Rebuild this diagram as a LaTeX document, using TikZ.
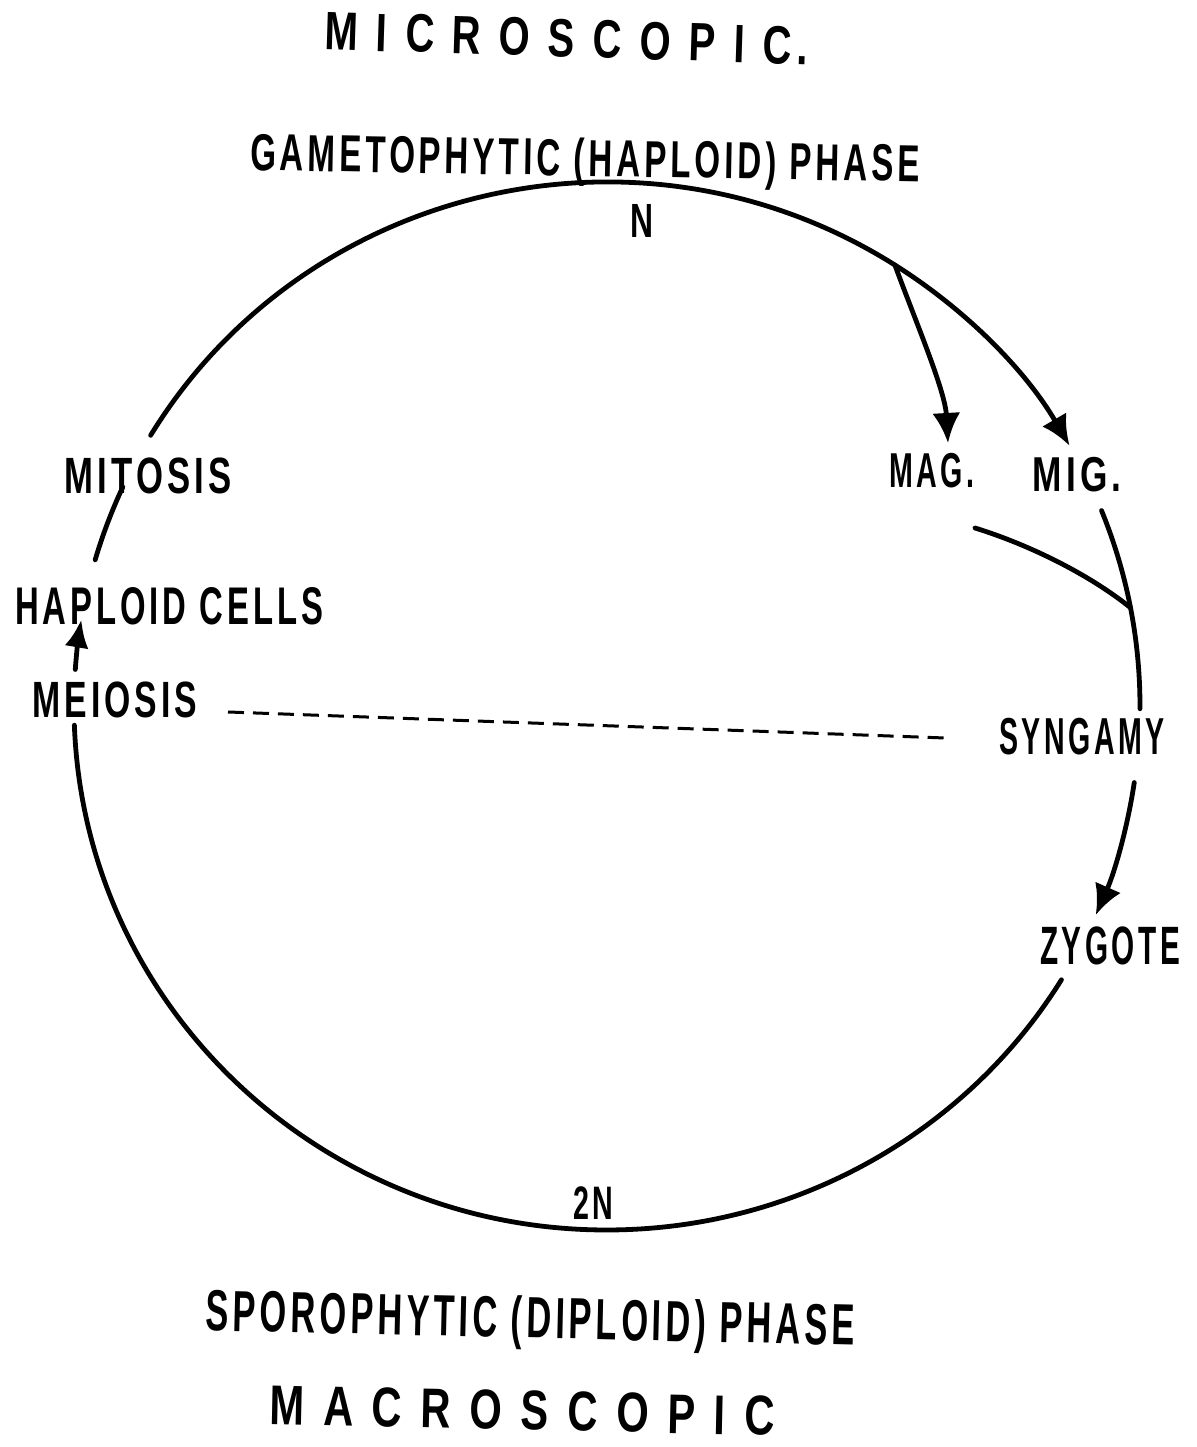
\documentclass[tikz,border=0pt]{standalone}
\usepackage{fontspec}
\setmainfont{Liberation Sans}[LetterSpace=12]
\usetikzlibrary{arrows.meta}
\newcommand{\lbl}[3]{\resizebox{#1pt}{\height}{\fontsize{#2pt}{#2pt}\selectfont\bfseries #3}}
\newcommand{\gp}{\hspace{0.45em}}
\begin{document}
\begin{tikzpicture}[x=0.5pt,y=0.5pt,line width=2.4pt,line cap=round,
  lb/.style={inner sep=0pt,anchor=base},
  tip/.style={-{Latex[length=15pt,width=14pt]}},
  cyc/.style={x radius=533,y radius=524}]
\useasboundingbox (0,0) rectangle (1197,1447);
\fill[white] (0,0) rectangle (1197,1447);
\coordinate (C) at (607,741);

% texts
\node[lb,rotate=-1.8] (micro) at (566,1390) {\lbl{241.5}{27}{M\gp I\gp C\gp R\gp O\gp S\gp C\gp O\gp P\gp I\gp C.}};
\node[lb,rotate=-1] (gam) at (585,1271) {\lbl{335}{26}{GAMETOPHYTIC (HAPLOID) PHASE}};
\node[lb] (n) at (642,1209) {\lbl{11.5}{24}{N}};
\node[lb] (mit) at (148,953) {\lbl{83.5}{25.5}{MITOSIS}};
\node[lb] (hap) at (169,822) {\lbl{154}{26.5}{HAPLOID CELLS}};
\node[lb] (mei) at (115,729) {\lbl{82.5}{25.5}{MEIOSIS}};
\node[lb] (mag) at (932,959) {\lbl{42.5}{24.5}{MAG.}};
\node[lb] (mig) at (1077,955) {\lbl{44.5}{24.5}{MIG.}};
\node[lb] (syn) at (1082,692) {\lbl{82.5}{26}{SYNGAMY}};
\node[lb] (zyg) at (1110,482) {\lbl{70}{27}{ZYGOTE}};
\node[lb] (twon) at (593,227) {\lbl{20}{23.5}{2N}};
\node[lb,rotate=-1.3] (spo) at (530,109) {\lbl{325}{29}{SPOROPHYTIC (DIPLOID) PHASE}};
\node[lb,rotate=-1.2] (macro) at (522,17) {\lbl{252.5}{28}{M\gp A\gp C\gp R\gp O\gp S\gp C\gp O\gp P\gp I\gp C}};

% points on the cycle
\path (C) ++(148.9:533 and 524) coordinate (topL);
\path (C) ++(57.3:533 and 524) coordinate (br);
\path (C) ++(155.3:533 and 524) coordinate (mitA);
\path (C) ++(176:533 and 524) coordinate (meiA);
\path (C) ++(182.1:533 and 524) coordinate (botA);
\path (C) ++(21.9:533 and 524) coordinate (migB);
\path (C) ++(-8.4:533 and 524) coordinate (synB);
\coordinate (magtip) at (948,1004);
\coordinate (magb) at (975,919);
\coordinate (join) at (1130.6,839.2);
\coordinate (d1) at (228,735);
\coordinate (d2) at (945,709);

% connectors
\draw[tip] (topL) arc[start angle=148.9,end angle=29.8,cyc];
\draw[tip] (br) .. controls (915,1127) and (945,1057) .. (magtip);
\draw (mitA) arc[start angle=155.3,end angle=163.8,cyc];
\draw[-{Latex[length=14pt,width=12pt]}] (meiA) arc[start angle=176,end angle=170.5,cyc];
\draw (botA) arc[start angle=182.1,end angle=328.5,cyc];
\draw (migB) arc[start angle=21.9,end angle=-0.3,cyc];
\draw (magb) .. controls (1030,902) and (1090,872) .. (join);
\draw[tip] (synB) arc[start angle=-8.4,end angle=-23.5,cyc];
\draw[line width=1.5pt,line cap=butt,dash pattern=on 8pt off 4.5pt] (d1) -- (d2);
\end{tikzpicture}
\end{document}
